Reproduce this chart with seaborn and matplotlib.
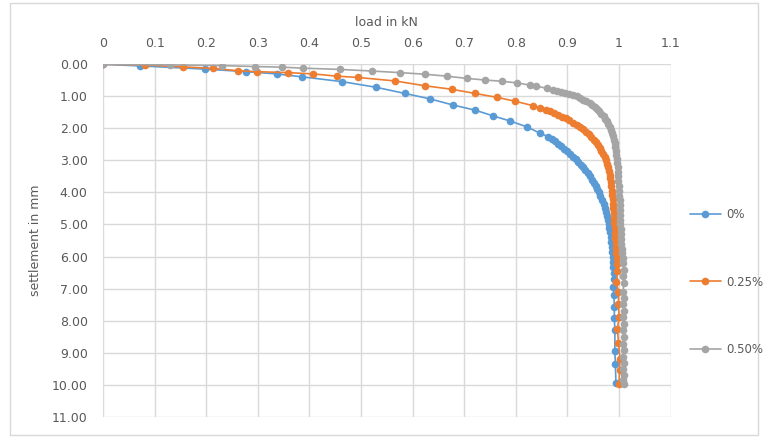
import numpy as np
import pandas as pd
import matplotlib
matplotlib.use("Agg")
import matplotlib.pyplot as plt
from matplotlib.patches import Rectangle
from matplotlib.lines import Line2D
import seaborn as sns

# ---------------- data ----------------
series_names = ["0%", "0.25%", "0.50%"]

load_0 = [0.0, 0.072, 0.198, 0.278, 0.337, 0.385, 0.463, 0.530, 0.585, 0.634, 0.678,
          0.721, 0.756, 0.789, 0.821, 0.847, 0.863,
          0.870, 0.876, 0.882, 0.888, 0.894, 0.900, 0.906, 0.911, 0.916, 0.921,
          0.926, 0.931, 0.935, 0.940, 0.944, 0.948, 0.952, 0.955, 0.958, 0.961,
          0.964, 0.967, 0.970, 0.972, 0.974, 0.976, 0.978, 0.980, 0.981, 0.983,
          0.984, 0.985, 0.986, 0.987, 0.988, 0.989, 0.989, 0.990,
          0.990, 0.989, 0.990, 0.991, 0.991, 0.992, 0.992, 0.993, 0.994]
settle_0 = [0.0, 0.05, 0.15, 0.23, 0.30, 0.39, 0.54, 0.72, 0.91, 1.08, 1.27,
            1.43, 1.61, 1.77, 1.95, 2.15, 2.26,
            2.32, 2.40, 2.48, 2.56, 2.64, 2.72, 2.80, 2.88, 2.96, 3.04,
            3.13, 3.22, 3.31, 3.40, 3.50, 3.60, 3.70, 3.80, 3.90, 4.00,
            4.12, 4.24, 4.36, 4.48, 4.60, 4.72, 4.85, 4.98, 5.11, 5.25,
            5.40, 5.55, 5.70, 5.86, 6.02, 6.18, 6.34, 6.50,
            6.70, 6.95, 7.21, 7.58, 7.92, 8.30, 8.95, 9.35, 9.95]

load_25 = [0.0, 0.081, 0.155, 0.213, 0.262, 0.298, 0.359, 0.407, 0.453, 0.494,
           0.566, 0.624, 0.676, 0.721, 0.763, 0.798, 0.833, 0.847,
           0.858, 0.866, 0.874, 0.882, 0.890, 0.897, 0.904, 0.911, 0.918, 0.924,
           0.930, 0.936, 0.941, 0.946, 0.951, 0.955, 0.959, 0.963, 0.966, 0.969,
           0.972, 0.975, 0.977, 0.979, 0.981, 0.982, 0.983, 0.984, 0.985, 0.986,
           0.987, 0.988, 0.988, 0.989, 0.990, 0.990, 0.991, 0.992, 0.992, 0.993,
           0.994, 0.994, 0.995, 0.996, 0.996,
           0.997, 0.995, 0.999, 0.999, 1.000, 0.997, 0.999, 1.002, 1.001, 1.000]
settle_25 = [0.0, 0.02, 0.08, 0.13, 0.20, 0.23, 0.26, 0.30, 0.37, 0.41,
             0.52, 0.67, 0.78, 0.91, 1.03, 1.15, 1.29, 1.36,
             1.42, 1.47, 1.52, 1.57, 1.63, 1.69, 1.75, 1.82, 1.89, 1.96,
             2.03, 2.11, 2.19, 2.27, 2.35, 2.44, 2.53, 2.62, 2.71, 2.80,
             2.90, 3.00, 3.10, 3.21, 3.32, 3.44, 3.56, 3.68, 3.81, 3.94,
             4.08, 4.22, 4.36, 4.50, 4.65, 4.80, 4.95, 5.10, 5.26, 5.42,
             5.58, 5.74, 5.90, 6.06, 6.22,
             6.45, 6.80, 7.11, 7.47, 7.90, 8.25, 8.70, 9.19, 9.55, 9.97]

load_50 = [0.0, 0.130, 0.230, 0.295, 0.346, 0.388, 0.459, 0.521, 0.576, 0.624,
           0.666, 0.705, 0.740, 0.773, 0.802, 0.828, 0.840, 0.860,
           0.872, 0.880, 0.888, 0.896, 0.904, 0.911, 0.918, 0.925, 0.931, 0.937,
           0.943, 0.948, 0.953, 0.958, 0.962, 0.966, 0.970, 0.973, 0.976, 0.979,
           0.982, 0.984, 0.986, 0.988, 0.990, 0.992, 0.993, 0.994, 0.995, 0.996,
           0.997, 0.998, 0.998, 0.999, 0.999, 1.000, 1.000, 1.000, 1.001, 1.001,
           1.001, 1.002, 1.002, 1.002, 1.003, 1.003, 1.004, 1.004, 1.005, 1.006,
           1.007,
           1.008, 1.009, 1.008, 1.009, 1.008, 1.009, 1.008, 1.009, 1.008, 1.009,
           1.008, 1.009, 1.008, 1.009, 1.008, 1.009, 1.008, 1.009, 1.008, 1.009]
settle_50 = [0.0, 0.02, 0.04, 0.07, 0.09, 0.12, 0.16, 0.21, 0.26, 0.31,
             0.37, 0.44, 0.49, 0.53, 0.58, 0.65, 0.68, 0.75,
             0.80, 0.83, 0.86, 0.89, 0.92, 0.96, 1.00, 1.05, 1.10, 1.15,
             1.21, 1.27, 1.33, 1.40, 1.47, 1.54, 1.62, 1.70, 1.78, 1.87,
             1.96, 2.05, 2.15, 2.25, 2.36, 2.47, 2.58, 2.70, 2.82, 2.95,
             3.08, 3.22, 3.36, 3.50, 3.65, 3.80, 3.95, 4.10, 4.25, 4.40,
             4.55, 4.70, 4.85, 5.00, 5.15, 5.30, 5.45, 5.60, 5.75, 5.90,
             6.05,
             6.20, 6.43, 6.60, 6.84, 7.11, 7.30, 7.47, 7.70, 7.89, 8.10,
             8.30, 8.50, 8.72, 8.92, 9.14, 9.32, 9.50, 9.70, 9.87, 9.97]

x_ticks = [0, 0.1, 0.2, 0.3, 0.4, 0.5, 0.6, 0.7, 0.8, 0.9, 1, 1.1]
x_tick_labels = ["0", "0.1", "0.2", "0.3", "0.4", "0.5", "0.6", "0.7", "0.8", "0.9", "1", "1.1"]
y_ticks = list(range(0, 12))
y_tick_labels = [f"{v:.2f}" for v in y_ticks]

colors = ["#5B9BD5", "#ED7D31", "#A5A5A5"]

df = pd.concat([
    pd.DataFrame({"load": load_0, "settlement": settle_0, "series": series_names[0]}),
    pd.DataFrame({"load": load_25, "settlement": settle_25, "series": series_names[1]}),
    pd.DataFrame({"load": load_50, "settlement": settle_50, "series": series_names[2]}),
], ignore_index=True)

# ---------------- figure ----------------
sns.set_theme(style="white")
plt.rcParams["font.family"] = ["DejaVu Sans"]
text_color = "#595959"

W, H = 768, 437
fig = plt.figure(figsize=(W / 100, H / 100), dpi=100)
ax = fig.add_axes([103 / W, 1 - 416.7 / H, (670.6 - 103) / W, (416.7 - 64.3) / H])

sns.lineplot(data=df, x="load", y="settlement", hue="series", palette=colors,
             hue_order=series_names, sort=False, estimator=None, marker="o",
             markersize=5.5, markeredgewidth=0, linewidth=1.2, legend=False, ax=ax)

ax.set_xlim(0, 1.1)
ax.set_ylim(11, 0)
ax.xaxis.tick_top()
ax.xaxis.set_label_position("top")
ax.set_xticks(x_ticks)
ax.set_xticklabels(x_tick_labels)
ax.set_yticks(y_ticks)
ax.set_yticklabels(y_tick_labels)
ax.tick_params(axis="x", length=0, pad=10, labelsize=9, labelcolor=text_color)
ax.tick_params(axis="y", length=0, pad=11, labelsize=9, labelcolor=text_color)
ax.set_xlabel("load in kN", fontsize=9, color=text_color, labelpad=8)
ax.set_ylabel("settlement in mm", fontsize=9, color=text_color, labelpad=7)
ax.grid(True, color="#D9D9D9", linewidth=1.0)
ax.set_axisbelow(True)
for s in ax.spines.values():
    s.set_visible(False)

# chart-area border
fig.patches.append(Rectangle((10 / W, 1 - 435 / H), 748 / W, 432 / H,
                             transform=fig.transFigure, fill=False,
                             edgecolor="#D9D9D9", linewidth=1.0))

handles = [Line2D([0], [0], color=c, marker="o", markersize=5.5, markeredgewidth=0,
                  linewidth=1.2) for c in colors]
fig.legend(handles, series_names, loc="center left",
           bbox_to_anchor=(690 / W, 1 - 282 / H), frameon=False, fontsize=8.5,
           labelcolor=text_color, handlelength=2.6, handletextpad=0.5,
           labelspacing=4.6, borderpad=0, borderaxespad=0)

fig.savefig("out.png", dpi=100)
